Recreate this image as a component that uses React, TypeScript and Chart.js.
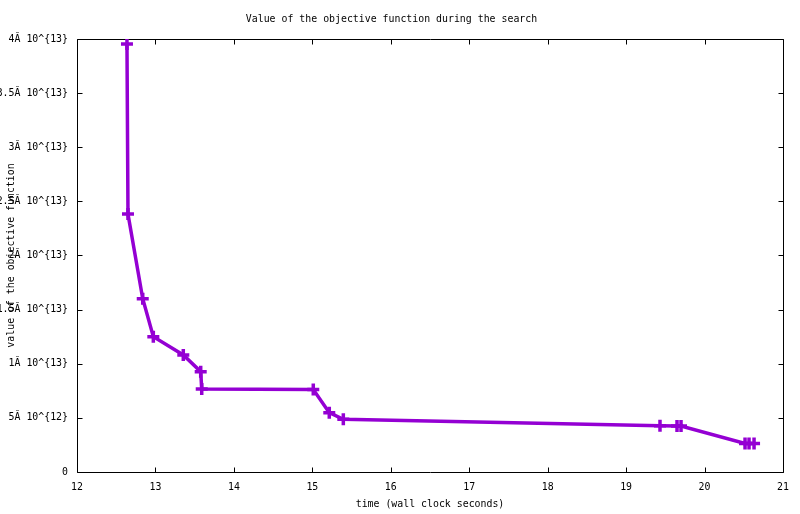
import React, { useEffect, useRef } from "react";
import { Chart, registerables } from "chart.js";

Chart.register(...registerables);

const times = [12.637, 12.65, 12.838, 12.973, 13.355, 13.577, 13.59, 15.012, 15.216, 15.395, 19.432, 19.649, 19.7, 20.516, 20.567, 20.631];
const values = [3.954e13, 2.383e13, 1.601e13, 1.25e13, 1.081e13, 0.927e13, 0.767e13, 0.762e13, 0.548e13, 0.487e13, 0.428e13, 0.425e13, 0.425e13, 0.263e13, 0.263e13, 0.263e13];
const yTickLabels = ["0", "5Ă 10^{12}", "1Ă 10^{13}", "1.5Ă 10^{13}", "2Ă 10^{13}", "2.5Ă 10^{13}", "3Ă 10^{13}", "3.5Ă 10^{13}", "4Ă 10^{13}"];
const xTickLabels = ["12", "13", "14", "15", "16", "17", "18", "19", "20", "21"];

const titleText = "Value of the objective function during the search";
const xTitle = "time (wall clock seconds)";
const yTitle = "value of the objective function";

const FONT = "'DejaVu Sans Mono', monospace";
const FS = 9.9;

const framePlugin = {
  id: "gnuFrame",
  beforeDatasetsDraw(chart: any) {
    const { ctx, chartArea, scales } = chart;
    const { left, right, top, bottom } = chartArea;
    ctx.save();
    ctx.strokeStyle = "#000";
    ctx.lineWidth = 1;
    ctx.beginPath();
    const L = Math.round(left) + 0.5;
    const R = Math.round(right) + 0.5;
    const T = Math.round(top) + 0.5;
    const B = Math.round(bottom) + 0.5;
    ctx.rect(L, T, R - L, B - T);
    const tl = 5;
    scales.x.ticks.forEach((t: any) => {
      const px = Math.round(scales.x.getPixelForValue(t.value)) + 0.5;
      ctx.moveTo(px, B);
      ctx.lineTo(px, B - tl);
      ctx.moveTo(px, T);
      ctx.lineTo(px, T + tl);
    });
    scales.y.ticks.forEach((t: any) => {
      const py = Math.round(scales.y.getPixelForValue(t.value)) + 0.5;
      ctx.moveTo(L, py);
      ctx.lineTo(L + tl, py);
      ctx.moveTo(R, py);
      ctx.lineTo(R - tl, py);
    });
    ctx.stroke();
    ctx.restore();
  },
};

export default function App() {
  const ref = useRef<HTMLCanvasElement>(null);
  useEffect(() => {
    if (!ref.current) return;
    const data = times.map((t, i) => ({ x: t, y: values[i] }));
    const chart = new Chart(ref.current, {
      type: "line",
      data: {
        datasets: [
          {
            data,
            borderColor: "#9400D3",
            backgroundColor: "#9400D3",
            borderWidth: 3.5,
            pointStyle: "cross",
            pointRadius: 6,
            pointBorderWidth: 3.5,
            pointBorderColor: "#9400D3",
            tension: 0,
            fill: false,
          },
        ],
      },
      options: {
        animation: false,
        responsive: false,
        layout: { padding: { left: 0, right: 17, top: 0, bottom: 0 } },
        plugins: {
          legend: { display: false },
          tooltip: { enabled: false },
          title: {
            display: true,
            text: titleText,
            color: "#000",
            font: { family: FONT, size: FS, weight: "normal", lineHeight: 1.2 },
            padding: { top: 13, bottom: 14.1 },
          },
        },
        scales: {
          x: {
            type: "linear",
            min: 12,
            max: 21,
            grid: { display: false },
            border: { display: false },
            ticks: {
              stepSize: 1,
              color: "#000",
              padding: 1,
              maxRotation: 0,
              font: { family: FONT, size: FS },
              callback: (v: any) => xTickLabels[Math.round(Number(v) - 12)],
            },
            title: {
              display: true,
              text: xTitle,
              color: "#000",
              font: { family: FONT, size: FS },
              padding: { top: 4, bottom: 4 },
            },
            afterFit: (s: any) => {
              s.height = 42;
            },
          },
          y: {
            type: "linear",
            min: 0,
            max: 4e13,
            grid: { display: false },
            border: { display: false },
            ticks: {
              stepSize: 5e12,
              color: "#000",
              padding: 1,
              font: { family: FONT, size: FS },
              callback: (v: any) => yTickLabels[Math.round(Number(v) / 5e12)],
            },
            title: {
              display: true,
              text: yTitle,
              color: "#000",
              font: { family: FONT, size: FS },
              padding: { top: 5, bottom: 5 },
            },
            afterFit: (s: any) => {
              s.width = 77;
            },
          },
        },
      },
      plugins: [framePlugin],
    });
    return () => chart.destroy();
  }, []);
  return (
    <div style={{ position: "absolute", left: 0, top: 0, width: 800, height: 514, background: "#fff" }}>
      <canvas ref={ref} width={800} height={514} style={{ display: "block" }} />
    </div>
  );
}
